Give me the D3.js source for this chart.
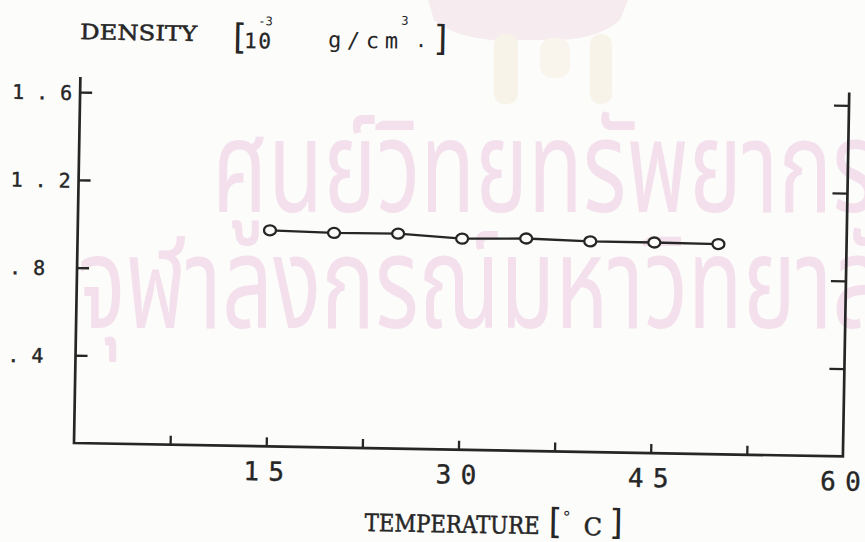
<!DOCTYPE html>
<html>
<head>
<meta charset="utf-8">
<script src="https://cdn.jsdelivr.net/npm/d3@7"></script>
<style>
  html, body { margin: 0; padding: 0; background: #fcfcfb; }
  svg { display: block; }
</style>
</head>
<body>
<svg id="chart" width="865" height="542"></svg>
<script>
// Density of the sample versus temperature
const temperature = [15, 20, 25, 30, 35, 40, 45, 50];
const density = [0.985, 0.978, 0.980, 0.962, 0.968, 0.960, 0.960, 0.958];

// Axis ticks and labels
const xTickValues = [7.5, 15, 22.5, 30, 37.5, 45, 52.5];
const xLabelValues = [15, 30, 45, 60];
const yTickValues = [0.4, 0.8, 1.2, 1.6];
const yLabelText = ["1.6", "1.2", ".8", ".4"];
const yLabelValues = [1.6, 1.2, 0.8, 0.4];

// Watermark lines of the library stamp
const stampLines = ["ศูนย์วิทยทรัพยากร", "จุฬาลงกรณ์มหาวิทยาลัย"];

const ink = "#262626";
const numFont = "'DejaVu Sans Mono', monospace";
const wordFont = "'DejaVu Serif', serif";
const thaiFont = "'Noto Sans Thai', 'Loma', 'Garuda', 'Noto Sans', sans-serif";

const svg = d3.select("#chart");

// faint emblem at the top of the stamp
const emblem = svg.append("g").attr("opacity", 0.28);
emblem.append("path")
  .attr("d", "M428,0 L628,0 L620,20 Q600,38 560,40 L492,40 Q452,36 434,20 Z")
  .attr("fill", "#e7c3d0");
emblem.append("rect").attr("x", 494).attr("y", 34).attr("width", 24).attr("height", 70)
  .attr("rx", 10).attr("fill", "#efdfb8");
emblem.append("rect").attr("x", 590).attr("y", 34).attr("width", 22).attr("height", 70)
  .attr("rx", 10).attr("fill", "#efdfb8");
emblem.append("rect").attr("x", 540).attr("y", 38).attr("width", 30).attr("height", 40)
  .attr("rx", 12).attr("fill", "#f2e6cc");

// faint stamp text behind the plot
const stamp = svg.append("g").attr("fill", "#f3e0ec");
stamp.append("text").attr("transform", "translate(212,212) scale(0.7,1)")
  .attr("font-family", thaiFont).attr("font-size", 128).text(stampLines[0]);
stamp.append("text").attr("transform", "translate(78,328) scale(0.7,1)")
  .attr("font-family", thaiFont).attr("font-size", 128).text(stampLines[1]);

// plot frame (the sheet sits slightly rotated)
const x0 = 74, y0 = 443, xEnd = 843, frameTop = 77;
const g = svg.append("g").attr("transform", `rotate(1, ${x0}, ${y0})`);

const x = d3.scaleLinear().domain([0, 60]).range([x0, xEnd]);
const y = d3.scaleLinear().domain([0, 1.6]).range([y0, 92]);

// ticks via d3 axes, tick marks pointing into the plot
const styleAxis = sel => {
  sel.select(".domain").remove();
  sel.selectAll(".tick line").attr("stroke", ink).attr("stroke-width", 2.3);
  sel.selectAll(".tick text").remove();
};
g.append("g").attr("transform", `translate(0,${y0})`)
  .call(d3.axisBottom(x).tickValues(xTickValues).tickSize(-9).tickFormat(""))
  .call(styleAxis);
g.append("g").attr("transform", `translate(${x0},0)`)
  .call(d3.axisLeft(y).tickValues(yTickValues).tickSize(-12).tickFormat(""))
  .call(styleAxis);
g.append("g").attr("transform", `translate(${xEnd},0)`)
  .call(d3.axisRight(y).tickValues(yTickValues).tickSize(-15).tickFormat(""))
  .call(styleAxis);

g.append("path")
  .attr("d", `M${x0},${frameTop}V${y0}H${xEnd}V${frameTop + 2}`)
  .attr("fill", "none").attr("stroke", ink).attr("stroke-width", 2.7)
  .attr("stroke-linejoin", "miter");

// monospaced plotter-style labels, one cell per character
function cells(parent, str, cx, cy, adv, size, align) {
  const n = str.length;
  const start = align === "start" ? cx : cx - (n - 1) * adv / 2;
  str.split("").forEach((ch, i) => {
    parent.append("text")
      .attr("x", start + i * adv).attr("y", cy)
      .attr("text-anchor", "middle").attr("dominant-baseline", "central")
      .attr("font-family", numFont).attr("font-size", size)
      .attr("fill", ink).attr("stroke", ink).attr("stroke-width", 0.4)
      .text(ch);
  });
}

xLabelValues.forEach(v => cells(g, String(v), x(v) - 2, y0 + 25, 25, 26, "middle"));
yLabelValues.forEach((v, i) => cells(g, yLabelText[i], 12, y(v) + 1, 24, 20, "start"));

// data line and open circle markers
const pts = temperature.map((t, i) => [t, density[i]]);
g.append("path")
  .attr("d", d3.line().x(d => x(d[0])).y(d => y(d[1]))(pts))
  .attr("fill", "none").attr("stroke", ink).attr("stroke-width", 2.3);
g.selectAll("ellipse.pt").data(pts).join("ellipse")
  .attr("class", "pt")
  .attr("cx", d => x(d[0])).attr("cy", d => y(d[1]))
  .attr("rx", 6).attr("ry", 5)
  .attr("fill", "#fcfcfb").attr("stroke", ink).attr("stroke-width", 2.3);

// axis titles
const word = (t, xx, yy, size, len) => {
  const s = g.append("text").attr("x", xx).attr("y", yy)
    .attr("font-family", wordFont).attr("font-size", size)
    .attr("fill", ink).attr("stroke", ink).attr("stroke-width", 0.5).text(t);
  if (len) s.attr("textLength", len).attr("lengthAdjust", "spacingAndGlyphs");
  return s;
};
const mono = (t, xx, yy, size, len) => {
  const s = g.append("text").attr("x", xx).attr("y", yy)
    .attr("font-family", numFont).attr("font-size", size)
    .attr("fill", ink).text(t);
  if (len) s.attr("textLength", len).attr("lengthAdjust", "spacing");
  return s;
};
const bracket = (t, xx, yy) => g.append("text").attr("x", xx).attr("y", yy)
  .attr("font-family", numFont).attr("font-size", 35)
  .attr("fill", ink).text(t);

word("DENSITY", 73, 39, 21, 117);
bracket("[", 221, 46);
mono("10", 237, 45, 21, 27).attr("stroke", ink).attr("stroke-width", 0.3);
mono("-3", 251, 22, 12);
mono("g/cm", 321, 43, 22, 70);
mono("3", 394, 19, 12);
mono(".", 408, 41, 20);
bracket("]", 424, 44);

word("TEMPERATURE", 366, 526, 24, 175);
bracket("[", 545, 525);
mono("°", 563, 514, 16);
word("C", 585, 526, 24);
bracket("]", 608, 525);
</script>
</body>
</html>
